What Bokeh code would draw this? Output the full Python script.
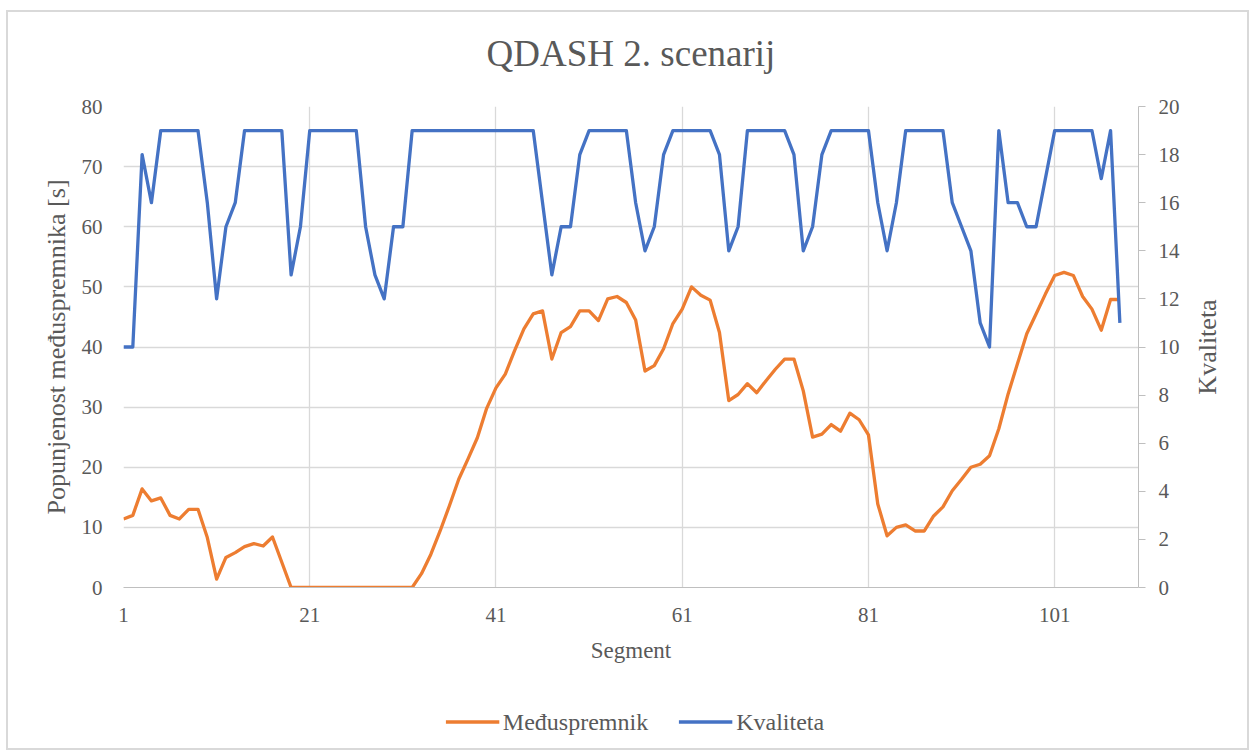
import math
from bokeh.plotting import figure
from bokeh.layouts import column, row
from bokeh.models import (Range1d, LinearAxis, FixedTicker, Legend, LegendItem, Title, Label)
from bokeh.embed import file_html
from bokeh.resources import INLINE

# ---- data ----
segments = list(range(1, 109))

buffer_s = [11.4, 12, 16.4, 14.4, 14.9, 12, 11.4, 13, 13, 8.3,
            1.4, 5, 5.8, 6.8, 7.3, 6.9, 8.4, 4.2, 0, 0,
            0, 0, 0, 0, 0, 0, 0, 0, 0, 0,
            0, 0, 2.3, 5.5, 9.4, 13.6, 18, 21.4, 24.9, 29.8,
            33.2, 35.5, 39.4, 43, 45.5, 46, 38, 42.4, 43.4, 46,
            46, 44.4, 48, 48.4, 47.4, 44.5, 36, 36.9, 39.7, 43.9,
            46.3, 50, 48.6, 47.8, 42.4, 31.1, 32.1, 33.9, 32.4, 34.4,
            36.3, 38, 38, 32.7, 25, 25.5, 27.1, 26, 29, 27.9,
            25.4, 13.9, 8.6, 10, 10.4, 9.4, 9.4, 11.9, 13.4, 16.1,
            18, 20, 20.5, 21.9, 26.4, 32.2, 37.2, 42.2, 45.5, 48.8,
            51.9, 52.4, 51.9, 48.4, 46.3, 42.8, 47.9, 47.9]

quality = [10, 10, 18, 16, 19, 19, 19, 19, 19, 16,
           12, 15, 16, 19, 19, 19, 19, 19, 13, 15,
           19, 19, 19, 19, 19, 19, 15, 13, 12, 15,
           15, 19, 19, 19, 19, 19, 19, 19, 19, 19,
           19, 19, 19, 19, 19, 16, 13, 15, 15, 18,
           19, 19, 19, 19, 19, 16, 14, 15, 18, 19,
           19, 19, 19, 19, 18, 14, 15, 19, 19, 19,
           19, 19, 18, 14, 15, 18, 19, 19, 19, 19,
           19, 16, 14, 16, 19, 19, 19, 19, 19, 16,
           15, 14, 11, 10, 19, 16, 16, 15, 15, 17,
           19, 19, 19, 19, 19, 17, 19, 11]

x_ticks = [1, 21, 41, 61, 81, 101]
left_ticks = [0, 10, 20, 30, 40, 50, 60, 70, 80]
right_ticks = [0, 2, 4, 6, 8, 10, 12, 14, 16, 18, 20]

title_text = "QDASH 2. scenarij"
x_title = "Segment"
left_title = "Popunjenost međuspremnika [s]"
right_title = "Kvaliteta"
name_buffer = "Međuspremnik"
name_quality = "Kvaliteta"

ORANGE = "#ED7D31"
BLUE = "#4472C4"
TXT = "#595959"
GRID = "#d9d9d9"
AXIS = "#bfbfbf"
FONT = "Liberation Serif"

# ---------------- main chart ----------------
p = figure(width=1179, height=680, output_backend="svg", toolbar_location=None,
           x_range=Range1d(1, 110), y_range=Range1d(0, 80),
           min_border_left=115, min_border_right=49, min_border_top=94,
           min_border_bottom=105)
p.outline_line_color = None
p.background_fill_color = "white"
p.border_fill_color = "white"

p.title.text = title_text
p.title.align = "center"
p.title.text_font = FONT
p.title.text_font_size = "37px"
p.title.text_font_style = "normal"
p.title.text_color = TXT
p.title.standoff = 10

# invisible spacer between the title and the plot area
p.add_layout(Title(text=" ", text_font_size="10px", standoff=15), "above")

p.extra_y_ranges = {"q": Range1d(0, 20)}

xa = p.xaxis[0]
xa.ticker = FixedTicker(ticks=x_ticks)
xa.axis_label = x_title
xa.axis_line_color = AXIS
xa.major_tick_line_color = None
xa.minor_tick_line_color = None
xa.major_tick_out = 0
xa.major_label_standoff = 20
xa.axis_label_standoff = 13

ya = p.yaxis[0]
ya.ticker = FixedTicker(ticks=left_ticks)
ya.axis_label = left_title
ya.axis_line_color = None
ya.major_tick_line_color = None
ya.minor_tick_line_color = None
ya.major_tick_out = 0
ya.major_label_standoff = 21
ya.axis_label_standoff = 8

ra = LinearAxis(y_range_name="q", ticker=FixedTicker(ticks=right_ticks))
ra.axis_line_color = AXIS
ra.major_tick_line_color = AXIS
ra.major_tick_in = 0
ra.major_tick_out = 7
ra.minor_tick_line_color = None
ra.major_label_standoff = 13
p.add_layout(ra, "right")

for ax in (xa, ya, ra):
    ax.major_label_text_font = FONT
    ax.major_label_text_font_size = "21px"
    ax.major_label_text_color = TXT
    ax.axis_label_text_font = FONT
    ax.axis_label_text_font_style = "normal"
    ax.axis_label_text_color = TXT
xa.axis_label_text_font_size = "23px"
ya.axis_label_text_font_size = "26px"

p.xgrid.ticker = FixedTicker(ticks=x_ticks)
p.xgrid.grid_line_color = GRID
p.ygrid.grid_line_color = GRID
p.xgrid.grid_line_width = 1.3
p.ygrid.grid_line_width = 1.3

r_buf = p.line(segments, buffer_s, line_color=ORANGE, line_width=3.3, line_join="round")
r_q = p.line(segments, quality, y_range_name="q", line_color=BLUE, line_width=3.3, line_join="round")

# ---------------- right axis title strip ----------------
p3 = figure(width=60, height=680, output_backend="svg", toolbar_location=None,
            x_range=Range1d(0, 1), y_range=Range1d(0, 1),
            x_axis_type=None, y_axis_type=None, min_border=0)
p3.outline_line_color = None
p3.background_fill_color = "white"
p3.border_fill_color = "white"
p3.grid.visible = False
p3.add_layout(Label(x=0.333, y=0.5, text=right_title, angle=math.pi / 2,
                    text_align="center", text_baseline="middle", text_font=FONT,
                    text_font_size="26px", text_color=TXT))

# ---------------- legend strip ----------------
p2 = figure(width=1239, height=56, output_backend="svg", toolbar_location=None,
            x_range=Range1d(0, 1), y_range=Range1d(-2, -1),
            x_axis_type=None, y_axis_type=None, min_border=0,
            min_border_left=14, min_border_right=0, min_border_top=3, min_border_bottom=0)
p2.outline_line_color = None
p2.background_fill_color = "white"
p2.border_fill_color = "white"
p2.grid.visible = False
# the same series (outside this strip's visible range) supply the legend samples
g_buf = p2.line(segments, buffer_s, line_color=ORANGE, line_width=3.3)
g_q = p2.line(segments, quality, line_color=BLUE, line_width=3.3)

legend = Legend(items=[LegendItem(label=name_buffer, renderers=[g_buf]),
                       LegendItem(label=name_quality, renderers=[g_q])],
                orientation="horizontal", location="center")
legend.label_text_font = FONT
legend.label_text_font_size = "24px"
legend.label_text_color = TXT
legend.glyph_width = 54
legend.glyph_height = 20
legend.label_standoff = 4
legend.spacing = 30
legend.padding = 5
legend.margin = 0
legend.border_line_color = None
legend.background_fill_alpha = 0
p2.add_layout(legend, "center")

layout = column(row(p, p3, spacing=0), p2, spacing=0)
layout.styles = {"border": "2px solid #d9d9d9", "margin-left": "6px", "margin-top": "10px",
                 "background-color": "white"}

open("out.html", "w").write(file_html(layout, INLINE))
